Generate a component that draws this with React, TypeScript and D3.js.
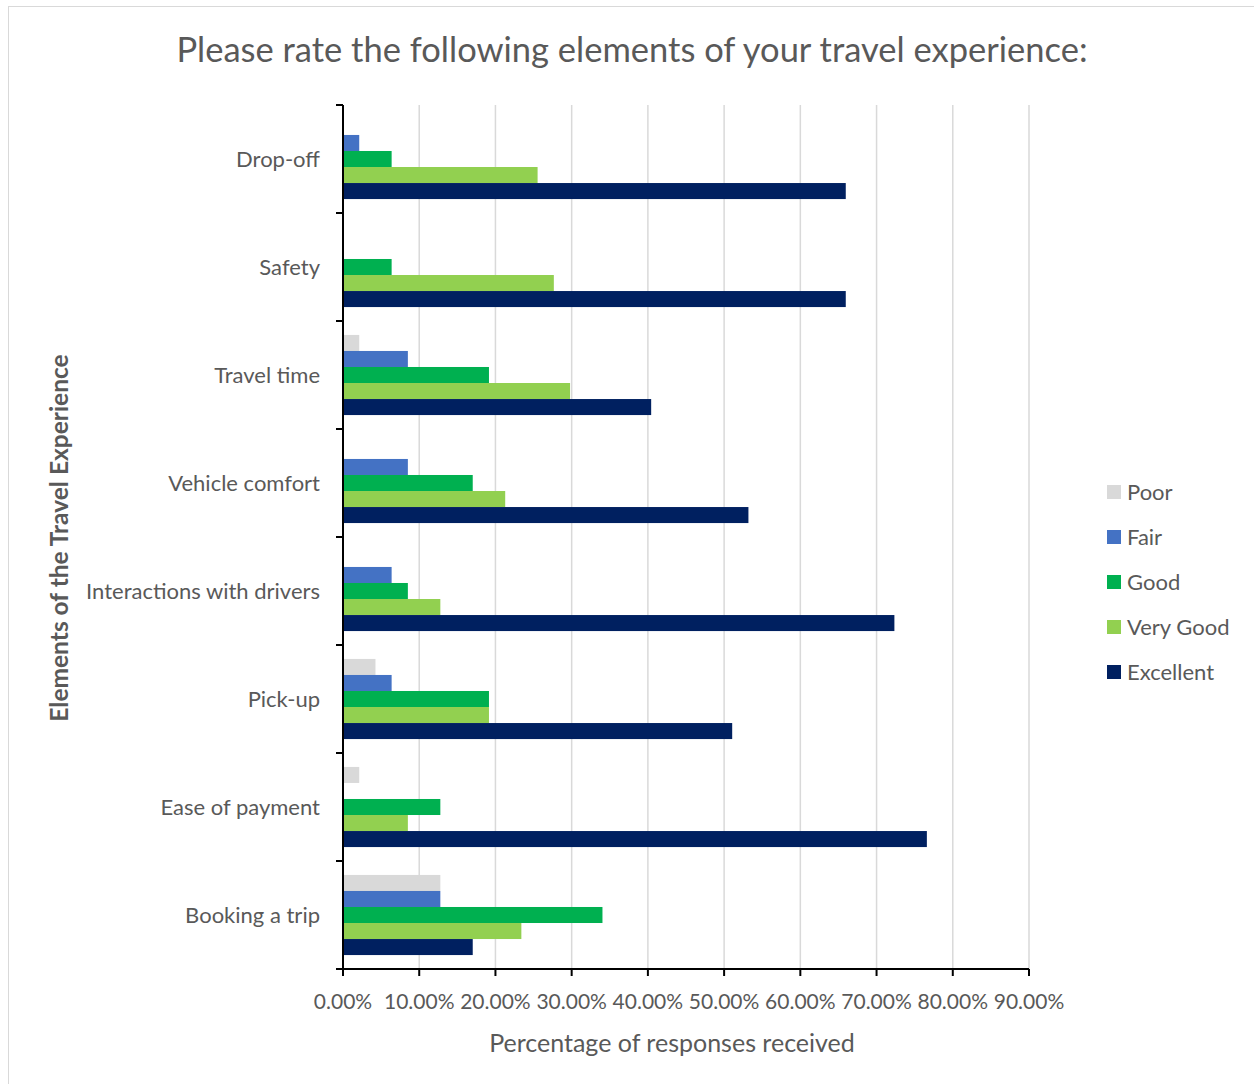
import React from "react";
import * as d3 from "d3";

const categories = [
  "Drop-off",
  "Safety",
  "Travel time",
  "Vehicle comfort",
  "Interactions with drivers",
  "Pick-up",
  "Ease of payment",
  "Booking a trip",
];
const ratings = ["Poor", "Fair", "Good", "Very Good", "Excellent"];
const colors = ["#d9d9d9", "#4472c4", "#00b050", "#92d050", "#002060"];

// percentages per category, order matches ratings
const poor = [0, 0, 2.13, 0, 0, 4.26, 2.13, 12.77];
const fair = [2.13, 0, 8.51, 8.51, 6.38, 6.38, 0, 12.77];
const good = [6.38, 6.38, 19.15, 17.02, 8.51, 19.15, 12.77, 34.04];
const veryGood = [25.53, 27.66, 29.79, 21.28, 12.77, 19.15, 8.51, 23.4];
const excellent = [65.96, 65.96, 40.43, 53.19, 72.34, 51.06, 76.6, 17.02];
const xTicks = [0, 10, 20, 30, 40, 50, 60, 70, 80, 90];

const series = [poor, fair, good, veryGood, excellent];

const W = 1254;
const H = 1084;
const font = "Lato, 'Open Sans', sans-serif";
const textColor = "#595959";

export default function App() {
  const left = 343;
  const right = 1029;
  const top = 105;
  const bottom = 969;

  const x = d3.scaleLinear().domain([0, 90]).range([left, right]);
  const y = d3.scaleBand<string>().domain(categories).range([top, bottom]);
  const inner = d3
    .scaleBand<string>()
    .domain(ratings)
    .range([0, y.bandwidth()])
    .paddingOuter(0.87);

  return (
    <svg
      width={W}
      height={H}
      style={{ position: "absolute", left: 0, top: 0, background: "#fff" }}
    >
      {/* chart border */}
      <rect x={8.5} y={6.5} width={W} height={H} fill="#fff" stroke="#d9d9d9" />

      <text
        x={632}
        y={62}
        textAnchor="middle"
        fontFamily={font}
        fontSize={34.5}
        fill={textColor}
      >
        Please rate the following elements of your travel experience:
      </text>

      {/* gridlines */}
      {xTicks.slice(1).map((t) => (
        <line
          key={t}
          x1={x(t)}
          x2={x(t)}
          y1={top}
          y2={bottom}
          stroke="#d9d9d9"
          strokeWidth={1.5}
        />
      ))}

      {/* bars */}
      {categories.map((c, ci) => (
        <g key={c} transform={`translate(0,${y(c)})`}>
          {ratings.map((r, ri) =>
            series[ri][ci] > 0 ? (
              <rect
                key={r}
                x={x(0)}
                y={inner(r)}
                width={x(series[ri][ci]) - x(0)}
                height={inner.bandwidth()}
                fill={colors[ri]}
              />
            ) : null
          )}
        </g>
      ))}

      {/* y axis */}
      <line x1={left} x2={left} y1={top} y2={bottom} stroke="#000" strokeWidth={2} />
      {[...categories.map((c) => y(c)!), bottom].map((v, i) => (
        <line key={i} x1={left - 7} x2={left} y1={v} y2={v} stroke="#000" strokeWidth={2} />
      ))}
      {categories.map((c) => (
        <text
          key={c}
          x={320}
          y={y(c)! + y.bandwidth() / 2}
          dy="0.35em"
          textAnchor="end"
          fontFamily={font}
          fontSize={22}
          fill={textColor}
        >
          {c}
        </text>
      ))}

      {/* x axis */}
      <line x1={left - 7} x2={right} y1={bottom} y2={bottom} stroke="#000" strokeWidth={2} />
      {xTicks.map((t) => (
        <g key={t}>
          <line x1={x(t)} x2={x(t)} y1={bottom} y2={bottom + 7} stroke="#000" strokeWidth={2} />
          <text
            x={x(t)}
            y={1009}
            textAnchor="middle"
            fontFamily={font}
            fontSize={21}
            fill={textColor}
          >
            {t.toFixed(2)}%
          </text>
        </g>
      ))}

      <text
        x={672}
        y={1052}
        textAnchor="middle"
        fontFamily={font}
        fontSize={25}
        fill={textColor}
      >
        Percentage of responses received
      </text>

      <text
        transform={`translate(68,${(top + bottom) / 2 + 1}) rotate(-90)`}
        textAnchor="middle"
        fontFamily={font}
        fontSize={24.5}
        fontWeight="bold"
        fill={textColor}
      >
        Elements of the Travel Experience
      </text>

      {/* legend */}
      {ratings.map((r, i) => (
        <g key={r} transform={`translate(1107,${492 + i * 45})`}>
          <rect x={0} y={-7} width={14} height={14} fill={colors[i]} />
          <text
            x={20}
            y={0}
            dy="0.35em"
            fontFamily={font}
            fontSize={22}
            fill={textColor}
          >
            {r}
          </text>
        </g>
      ))}
    </svg>
  );
}
